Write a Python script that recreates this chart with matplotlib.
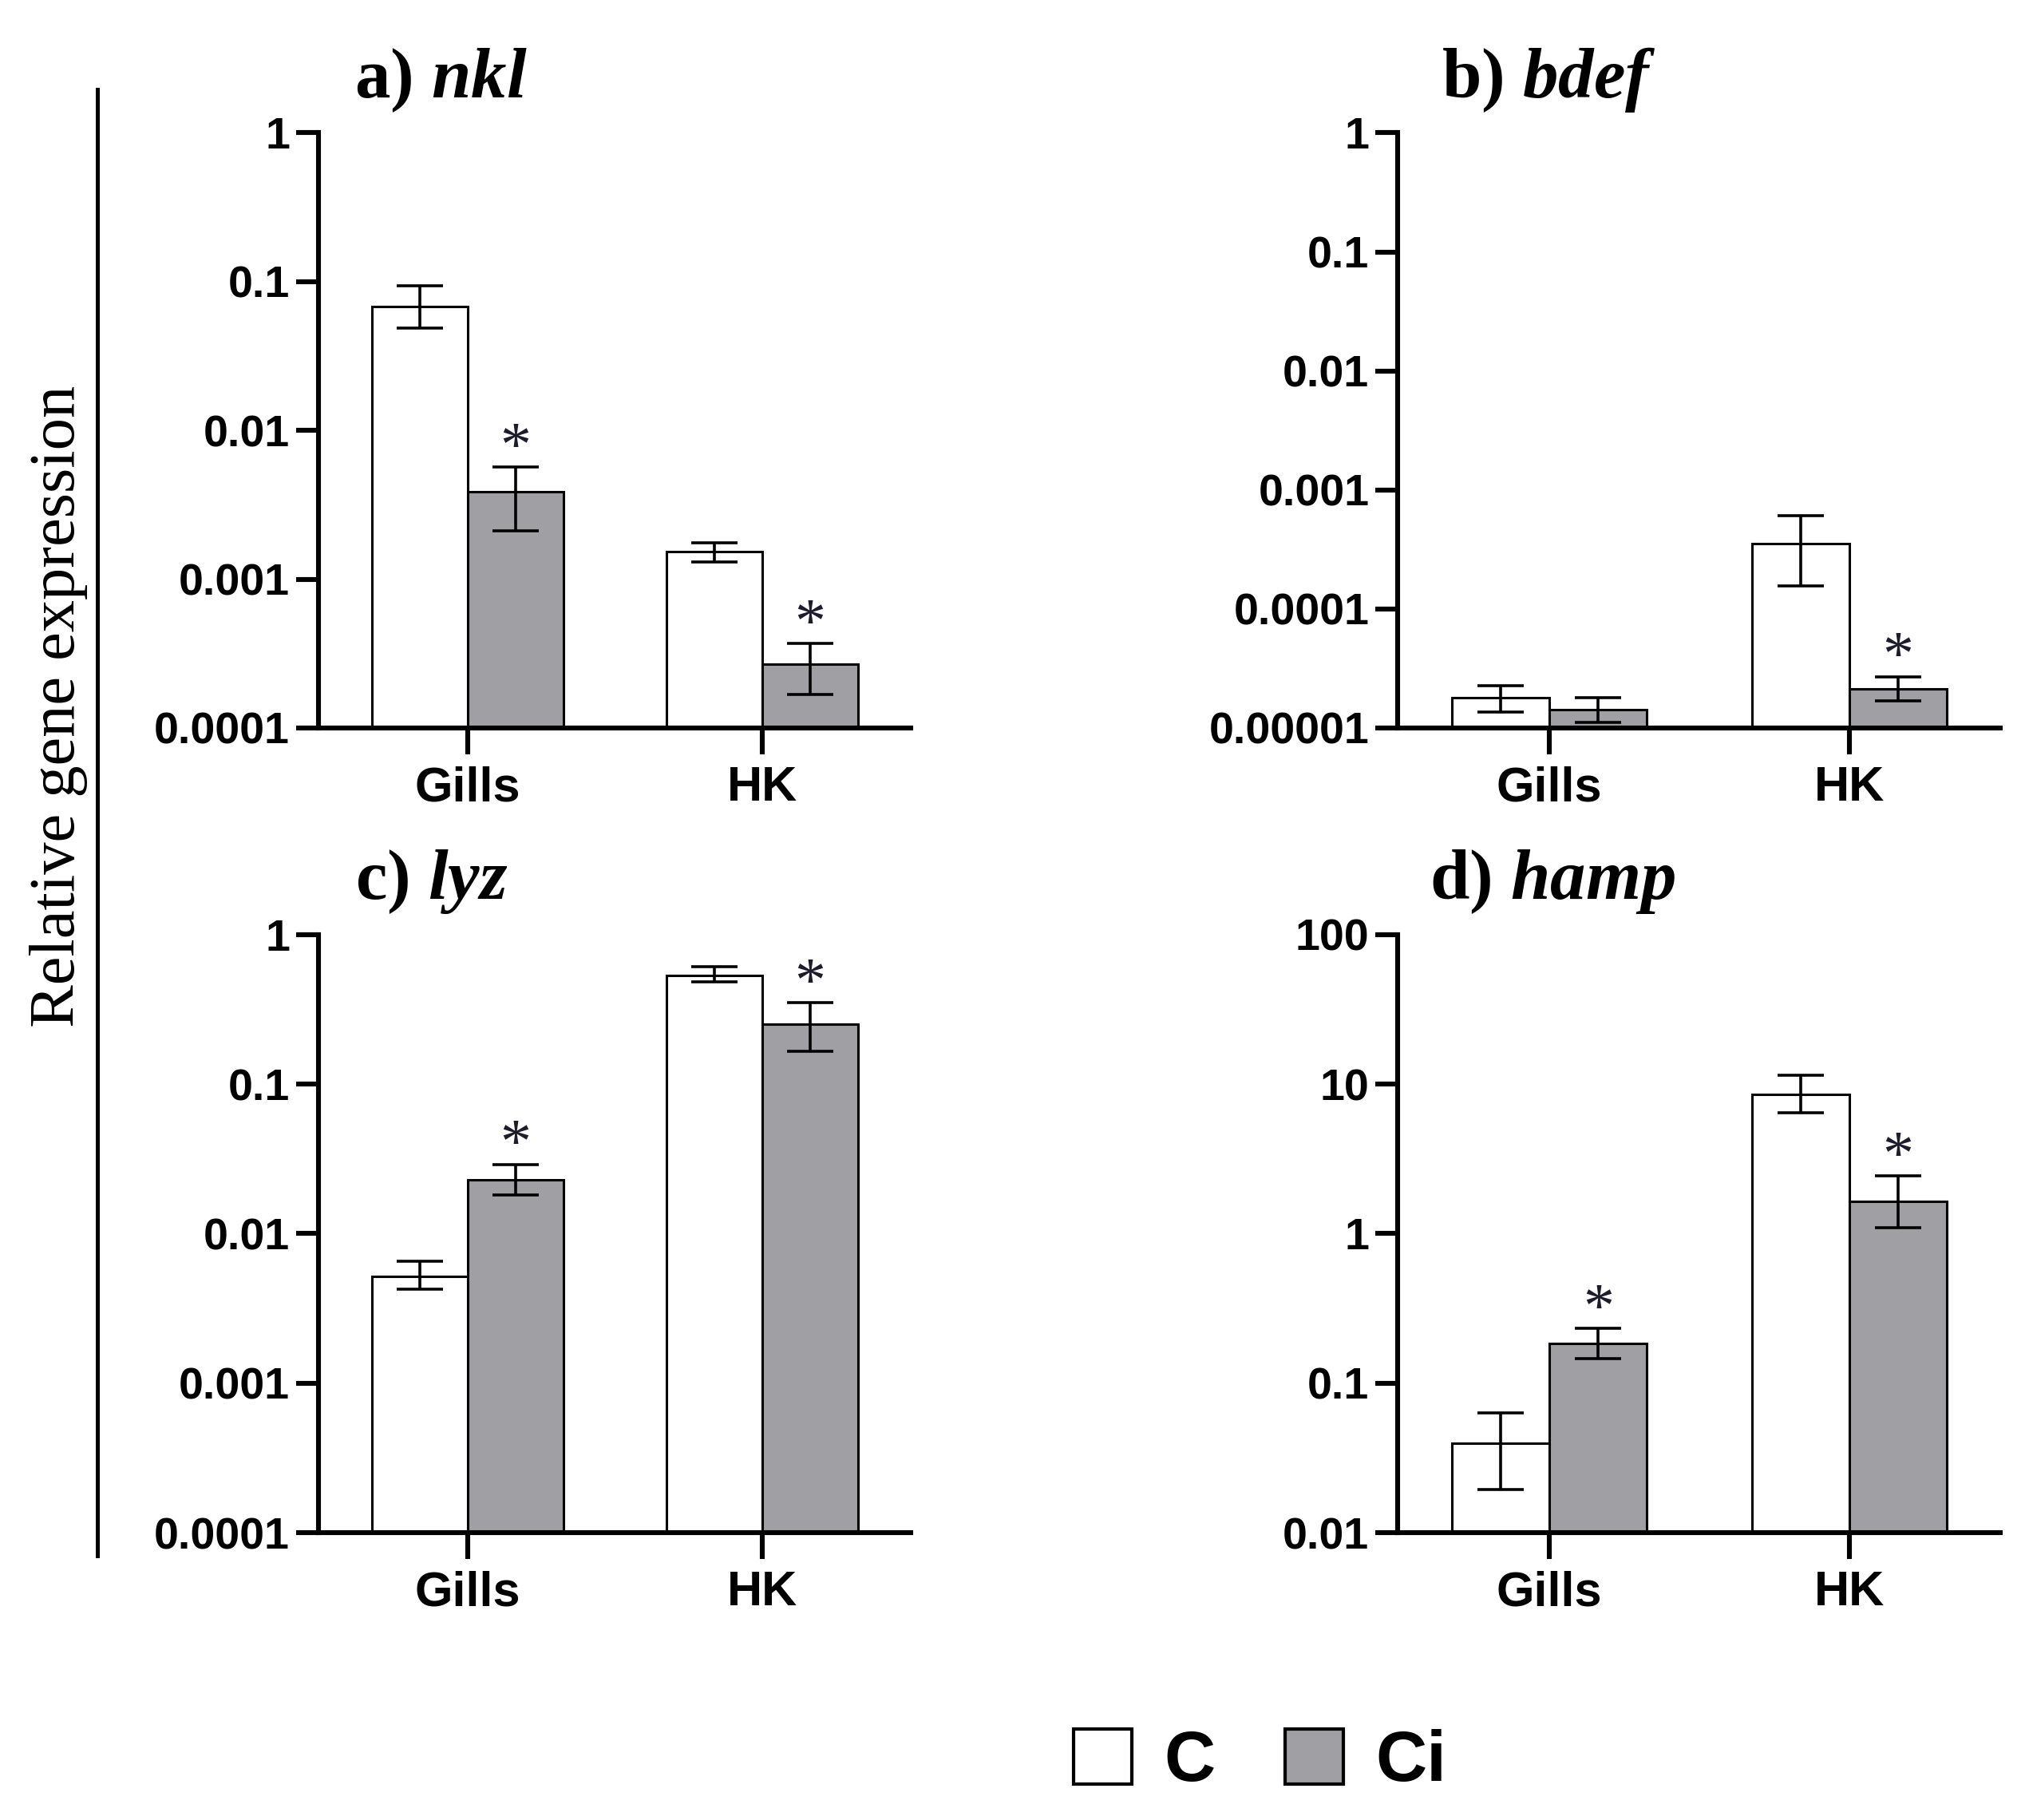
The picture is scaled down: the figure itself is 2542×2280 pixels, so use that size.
import numpy as np
import matplotlib
matplotlib.use("Agg")
import matplotlib.pyplot as plt
from matplotlib.patches import Patch
from matplotlib.lines import Line2D

plt.rcParams['font.family'] = ['Liberation Sans', 'DejaVu Sans']
plt.rcParams['mathtext.fontset'] = 'custom'
plt.rcParams['mathtext.it'] = 'Liberation Serif:style=italic:weight=bold'
plt.rcParams['mathtext.rm'] = 'Liberation Serif:weight=bold'

#=====================================================================
# data (means and ends of the error bars)

tissues = ['Gills', 'HK']
groups = ['C', 'Ci']

# a) nkl
nkl_c = [0.068, 0.00153]
nkl_c_lo = [0.0485, 0.00131]
nkl_c_hi = [0.094, 0.00175]
nkl_ci = [0.00387, 0.00027]
nkl_ci_lo = [0.00211, 0.000167]
nkl_ci_hi = [0.00566, 0.00037]
nkl_sig = [True, True]

# b) bdef
bdef_c = [1.80e-5, 3.56e-4]
bdef_c_lo = [1.36e-5, 1.56e-4]
bdef_c_hi = [2.25e-5, 6.04e-4]
bdef_ci = [1.43e-5, 2.13e-5]
bdef_ci_lo = [1.12e-5, 1.70e-5]
bdef_ci_hi = [1.80e-5, 2.69e-5]
bdef_sig = [False, True]

# c) lyz
lyz_c = [0.00517, 0.531]
lyz_c_lo = [0.00424, 0.483]
lyz_c_hi = [0.00651, 0.61]
lyz_ci = [0.0229, 0.252]
lyz_ci_lo = [0.0182, 0.165]
lyz_ci_hi = [0.029, 0.349]
lyz_sig = [True, True]

# d) hamp
hamp_c = [0.0397, 8.53]
hamp_c_lo = [0.0194, 6.45]
hamp_c_hi = [0.0633, 11.4]
hamp_ci = [0.185, 1.65]
hamp_ci_lo = [0.1466, 1.09]
hamp_ci_hi = [0.233, 2.43]
hamp_sig = [True, True]

ticks_1e4 = ['0.0001', '0.001', '0.01', '0.1', '1']
ticks_1e5 = ['0.00001', '0.0001', '0.001', '0.01', '0.1', '1']
ticks_hamp = ['0.01', '0.1', '1', '10', '100']

#=====================================================================

gray = '#a0a0a4'
lw_axis = 2.2


def panel(ax, label, gene, c, c_lo, c_hi, ci, ci_lo, ci_hi, sig, yticklabels, tx):

    x = np.arange(len(tissues))
    w = 0.325
    ax.set_yscale('log')

    tops = []
    for off, m, lo, hi, fc in ((-w/2, c, c_lo, c_hi, 'white'),
                               (w/2, ci, ci_lo, ci_hi, gray)):
        m = np.array(m)
        err = [m - np.array(lo), np.array(hi) - m]
        ax.bar(x + off, m, w, color=fc, edgecolor='black', linewidth=1.1, zorder=2)
        ax.errorbar(x + off, m, yerr=err, fmt='none', ecolor='black',
                    elinewidth=1.3, capsize=10.5, capthick=1.3, zorder=3)
        tops.append(np.array(hi))

    for i, s in enumerate(sig):
        if s:
            ax.annotate('*', xy=(x[i] + w/2, tops[1][i]), xytext=(0, 8),
                        textcoords='offset points', ha='center', va='center',
                        fontsize=28, fontfamily='Liberation Serif', color='#1c1c2c')

    yt = [float(v) for v in yticklabels]
    ax.set_ylim(yt[0], yt[-1])
    ax.set_yticks(yt)
    ax.set_yticklabels(yticklabels)
    ax.yaxis.set_minor_locator(matplotlib.ticker.NullLocator())

    ax.set_xticks(x)
    ax.set_xticklabels(tissues)
    ax.set_xlim(-0.505, 1.505)

    for s in ['top', 'right']:
        ax.spines[s].set_visible(False)
    for s in ['left', 'bottom']:
        ax.spines[s].set_linewidth(lw_axis)

    ax.tick_params(axis='y', length=10, width=lw_axis, pad=3, labelsize=20)
    ax.tick_params(axis='x', length=12, width=lw_axis, pad=5, labelsize=22)
    for t in ax.get_xticklabels() + ax.get_yticklabels():
        t.set_fontweight('bold')

    ax.text(tx, 1.06, label + ' $\\mathit{' + gene + '}$', transform=ax.transAxes,
            ha='center', va='baseline', fontsize=32,
            fontfamily='Liberation Serif', fontweight='bold')


fig = plt.figure(figsize=(12.71, 11.4))
fig.patch.set_facecolor('white')

axa = fig.add_axes([0.157, 0.600, 0.292, 0.327])
axb = fig.add_axes([0.689, 0.600, 0.297, 0.327])
axc = fig.add_axes([0.157, 0.1578, 0.292, 0.3287])
axd = fig.add_axes([0.689, 0.1578, 0.297, 0.3287])

panel(axa, 'a)', 'nkl', nkl_c, nkl_c_lo, nkl_c_hi, nkl_ci, nkl_ci_lo, nkl_ci_hi,
      nkl_sig, ticks_1e4, 0.207)
panel(axb, 'b)', 'bdef', bdef_c, bdef_c_lo, bdef_c_hi, bdef_ci, bdef_ci_lo, bdef_ci_hi,
      bdef_sig, ticks_1e5, 0.25)
panel(axc, 'c)', 'lyz', lyz_c, lyz_c_lo, lyz_c_hi, lyz_ci, lyz_ci_lo, lyz_ci_hi,
      lyz_sig, ticks_1e4, 0.191)
panel(axd, 'd)', 'hamp', hamp_c, hamp_c_lo, hamp_c_hi, hamp_ci, hamp_ci_lo, hamp_ci_hi,
      hamp_sig, ticks_hamp, 0.257)

fig.text(0.029, 0.612, 'Relative gene expression', rotation=90, ha='center', va='center',
         fontfamily='Liberation Serif', fontsize=29)
fig.add_artist(Line2D([0.048, 0.048], [0.145, 0.951], transform=fig.transFigure,
                      color='black', lw=1.8))

handles = [Patch(facecolor='white', edgecolor='black', linewidth=1.5, label=groups[0]),
           Patch(facecolor=gray, edgecolor='black', linewidth=1.5, label=groups[1])]
fig.legend(handles=handles, loc='center', bbox_to_anchor=(0.621, 0.0315), ncol=2,
           frameon=False, prop={'family': 'Liberation Sans', 'weight': 'bold', 'size': 32},
           handlelength=0.82, handleheight=0.82, handletextpad=0.46, columnspacing=0.98)

fig.savefig('out.png', dpi=200)
